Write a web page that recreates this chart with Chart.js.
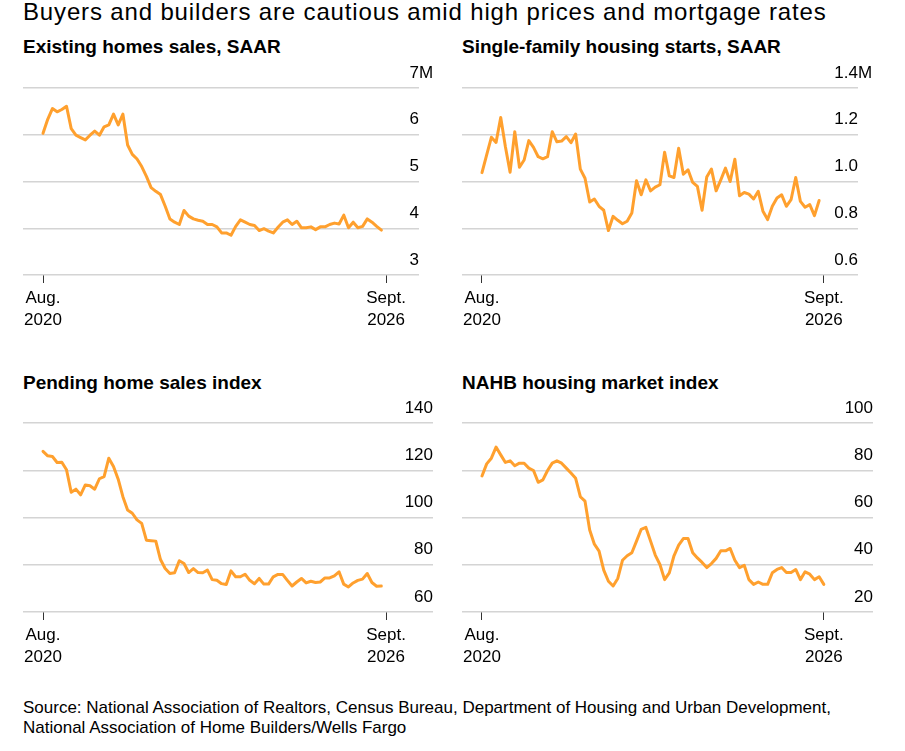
<!DOCTYPE html>
<html>
<head>
<meta charset="utf-8">
<script src="https://cdn.jsdelivr.net/npm/chart.js@4.4.1/dist/chart.umd.min.js"></script>
<style>
  body { margin: 0; background: #fff; font-family: "Liberation Sans", Arial, sans-serif; color: #000; }
  #page { position: relative; width: 905px; height: 751px; overflow: hidden; }
  .title { position: absolute; left: 23px; top: -2px; font-size: 24px; line-height: 28px; letter-spacing: 0.85px; white-space: nowrap; }
  .sub { position: absolute; font-size: 19px; line-height: 22px; font-weight: bold; white-space: nowrap; }
  canvas { position: absolute; }
  .source { position: absolute; left: 23px; top: 698px; font-size: 17px; line-height: 20px; }
</style>
</head>
<body>
<div id="page">
  <div class="title">Buyers and builders are cautious amid high prices and mortgage rates</div>

  <div class="sub" style="left:23px; top:36px;">Existing homes sales, SAAR</div>
  <div class="sub" style="left:462px; top:36px;">Single-family housing starts, SAAR</div>
  <div class="sub" style="left:23px; top:372px;">Pending home sales index</div>
  <div class="sub" style="left:462px; top:372px;">NAHB housing market index</div>

  <canvas id="existing" width="450" height="290" style="left:0; top:60px;"></canvas>
  <canvas id="starts" width="455" height="290" style="left:450px; top:60px;"></canvas>
  <canvas id="pending" width="450" height="290" style="left:0; top:395px;"></canvas>
  <canvas id="nahb" width="455" height="290" style="left:450px; top:395px;"></canvas>

  <div class="source">Source: National Association of Realtors, Census Bureau, Department of Housing and Urban Development,<br>National Association of Home Builders/Wells Fargo</div>
</div>

<script>
// months since Aug. 2020 for the two x ticks
const xTickValues = [0, 73];
const xTickLabels = [['Aug.', '2020'], ['Sept.', '2026']];

// existing home sales, millions, monthly from Aug. 2020
const existingSales = [
  6.03, 6.33, 6.56, 6.49, 6.54, 6.61, 6.13, 5.99, 5.94, 5.89, 5.99, 6.08,
  5.99, 6.17, 6.21, 6.44, 6.21, 6.44, 5.78, 5.58, 5.48, 5.32, 5.11, 4.87,
  4.79, 4.72, 4.47, 4.20, 4.13, 4.08, 4.38, 4.26, 4.20, 4.17, 4.15, 4.08,
  4.08, 4.03, 3.90, 3.90, 3.85, 4.04, 4.18, 4.13, 4.08, 4.06, 3.95, 3.99,
  3.94, 3.90, 4.02, 4.13, 4.18, 4.08, 4.15, 4.01, 4.01, 4.03, 3.97, 4.03,
  4.03, 4.08, 4.11, 4.09, 4.28, 4.01, 4.13, 4.01, 4.04, 4.20, 4.13, 4.04,
  3.96
];

// single-family housing starts, millions
const housingStarts = [
  1.038, 1.114, 1.189, 1.167, 1.274, 1.149, 1.040, 1.213, 1.061, 1.092, 1.175, 1.146,
  1.106, 1.097, 1.106, 1.213, 1.170, 1.173, 1.192, 1.166, 1.203, 1.053, 1.014, 0.912,
  0.925, 0.894, 0.877, 0.790, 0.851, 0.834, 0.819, 0.830, 0.865, 1.003, 0.943, 1.007,
  0.960, 0.976, 0.986, 1.125, 1.024, 1.017, 1.142, 1.031, 1.050, 0.996, 0.979, 0.877,
  1.019, 1.053, 0.960, 1.007, 1.057, 1.000, 1.095, 0.939, 0.953, 0.946, 0.925, 0.958,
  0.873, 0.837, 0.894, 0.929, 0.943, 0.894, 0.922, 1.017, 0.915, 0.890, 0.901, 0.854,
  0.919
];

// pending home sales index
const pendingSales = [
  128.0, 126.1, 125.8, 123.3, 123.4, 120.2, 110.7, 112.0, 109.6, 113.8, 113.4, 112.0,
  116.4, 117.3, 125.1, 121.6, 116.2, 108.8, 103.2, 101.8, 99.0, 97.5, 90.4, 90.2,
  90.0, 82.2, 78.4, 76.3, 76.6, 81.7, 80.5, 76.7, 78.4, 76.7, 76.6, 77.7,
  73.7, 73.4, 72.0, 71.6, 77.4, 74.9, 74.9, 76.0, 73.4, 72.0, 74.2, 71.8,
  71.8, 74.9, 75.9, 75.9, 73.4, 71.0, 72.7, 74.2, 72.3, 73.0, 72.5, 72.7,
  74.4, 74.4, 75.3, 77.0, 71.8, 70.6, 72.3, 73.4, 73.9, 76.3, 72.5, 70.9,
  71.0
];

// NAHB/Wells Fargo housing market index
const nahbIndex = [
  77.6, 82.7, 85.1, 89.8, 86.5, 83.3, 84.0, 81.9, 83.0, 83.0, 80.9, 79.9,
  74.9, 75.9, 79.9, 83.0, 84.0, 83.0, 80.9, 78.8, 76.6, 68.8, 66.9, 54.7,
  48.7, 45.8, 37.7, 33.0, 31.0, 34.2, 41.9, 43.8, 45.1, 50.0, 55.0, 55.8,
  50.0, 44.1, 40.1, 33.7, 36.6, 43.8, 48.3, 51.1, 51.1, 45.1, 42.9, 41.0,
  38.8, 40.5, 42.7, 45.9, 45.9, 46.9, 41.9, 38.8, 39.8, 33.7, 31.7, 32.7,
  31.7, 31.7, 36.6, 38.0, 38.8, 36.7, 36.7, 38.0, 33.7, 37.0, 36.0, 33.7,
  34.9, 31.7
];

const ORANGE = '#ffa02e';
Chart.defaults.font.family = '"Liberation Sans", Arial, sans-serif';
Chart.defaults.color = '#000';

// draws the unit after the top y label, hanging past the plot edge
const unitSuffix = {
  id: 'unitSuffix',
  afterDraw(chart, args, opts) {
    if (!opts.text) return;
    const y = chart.scales.y;
    const ctx = chart.ctx;
    ctx.save();
    ctx.font = '17px "Liberation Sans", Arial, sans-serif';
    ctx.fillStyle = '#000';
    ctx.textAlign = 'left';
    ctx.textBaseline = 'middle';
    ctx.fillText(opts.text, chart.chartArea.right, y.getPixelForValue(y.max) - 15);
    ctx.restore();
  }
};

function xLabel(v) {
  const i = xTickValues.indexOf(v);
  return i >= 0 ? xTickLabels[i] : '';
}

function makeChart(id, values, o) {
  new Chart(document.getElementById(id), {
    type: 'line',
    data: {
      datasets: [{
        data: values.map((v, i) => ({ x: i, y: v })),
        borderColor: ORANGE,
        borderWidth: 3,
        pointRadius: 0,
        tension: 0,
        fill: false,
        borderJoinStyle: 'round',
        borderCapStyle: 'round'
      }]
    },
    options: {
      responsive: false,
      animation: false,
      layout: { padding: o.padding },
      plugins: {
        legend: { display: false },
        tooltip: { enabled: false },
        unitSuffix: { text: o.suffix }
      },
      scales: {
        x: {
          type: 'linear',
          min: o.xMin,
          max: o.xMax,
          border: { display: false },
          grid: { drawOnChartArea: false, drawTicks: true, tickLength: 8, color: '#333', lineWidth: 1 },
          ticks: { autoSkip: false, maxRotation: 0, padding: 4, font: { size: 17, lineHeight: 1.3 }, callback: xLabel },
          afterBuildTicks: s => { s.ticks = xTickValues.map(v => ({ value: v })); },
          afterFit: s => { s.height = 60; s.paddingLeft = 0; s.paddingRight = 0; }
        },
        y: {
          position: 'right',
          min: o.yMin,
          max: o.yMax,
          border: { display: false },
          grid: { drawTicks: false, color: '#d4d4d4', lineWidth: 1.5 },
          ticks: { stepSize: o.step, mirror: true, padding: 0, labelOffset: -15, font: { size: 17 }, callback: o.fmt },
          afterFit: s => { s.width = 0; s.paddingTop = 0; s.paddingBottom = 0; }
        }
      }
    },
    plugins: [unitSuffix]
  });
}

makeChart('existing', existingSales, {
  padding: { top: 28, left: 23, right: 31, bottom: 15 },
  xMin: -4.26, xMax: 80.0, yMin: 3, yMax: 7, step: 1,
  fmt: v => String(v), suffix: 'M'
});
makeChart('starts', housingStarts, {
  padding: { top: 28, left: 12, right: 47, bottom: 15 },
  xMin: -4.27, xMax: 80.3, yMin: 0.6, yMax: 1.4, step: 0.2,
  fmt: v => v.toFixed(1), suffix: 'M'
});
makeChart('pending', pendingSales, {
  padding: { top: 28, left: 23, right: 17, bottom: 13 },
  xMin: -4.26, xMax: 83.0, yMin: 60, yMax: 140, step: 20,
  fmt: v => String(v), suffix: ''
});
makeChart('nahb', nahbIndex, {
  padding: { top: 28, left: 12, right: 32, bottom: 13 },
  xMin: -4.27, xMax: 83.5, yMin: 20, yMax: 100, step: 20,
  fmt: v => String(v), suffix: ''
});
</script>
</body>
</html>
